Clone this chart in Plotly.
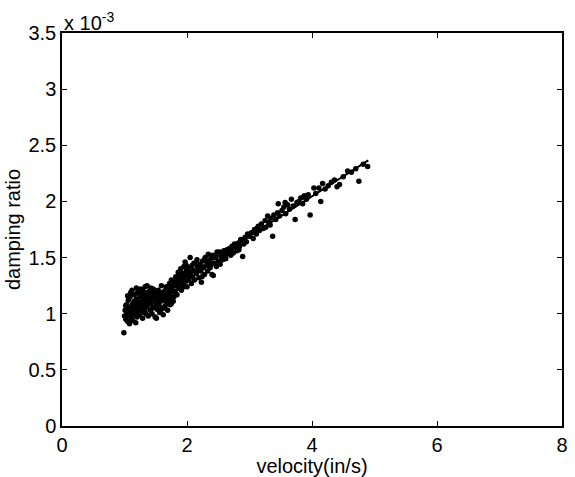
import plotly.graph_objects as go

# velocity (in/s) and damping ratio (x 1e-3)
vel = [
    0.99, 1.00, 1.01, 1.02, 1.03, 1.04, 1.05, 1.06, 1.07, 1.08, 1.08, 1.09, 1.10, 1.11, 1.12, 1.12, 1.13, 1.14, 1.15, 1.15, 1.16, 1.17, 1.18, 1.18, 1.19, 1.20, 1.20,
    1.21, 1.22, 1.23, 1.24, 1.25, 1.25, 1.26, 1.27, 1.28, 1.29, 1.30, 1.30, 1.31, 1.32, 1.33, 1.34, 1.35, 1.36, 1.36, 1.37, 1.38, 1.39, 1.40, 1.41, 1.42, 1.43, 1.44, 1.45, 1.46, 1.47, 1.48, 1.49, 1.50, 1.50,
    1.51, 1.52, 1.53, 1.54, 1.55, 1.56, 1.57, 1.58, 1.59, 1.60, 1.61, 1.62, 1.63, 1.64, 1.65, 1.66, 1.67, 1.68, 1.69, 1.70, 1.71, 1.72, 1.73, 1.74, 1.75, 1.76, 1.77, 1.78, 1.79, 1.80,
    1.81, 1.82, 1.83, 1.84, 1.85, 1.86, 1.87, 1.88, 1.89, 1.90, 1.91, 1.92, 1.93, 1.94, 1.95, 1.96, 1.97, 1.98, 1.99, 2.00, 2.01, 2.02, 2.03, 2.05, 2.06, 2.07, 2.08, 2.09, 2.10,
    2.12, 2.13, 2.15, 2.16, 2.18, 2.19, 2.21, 2.22, 2.23, 2.25, 2.26, 2.28, 2.29, 2.31, 2.33, 2.34, 2.35, 2.37, 2.38, 2.40, 2.41, 2.42, 2.44, 2.45, 2.47, 2.48, 2.50,
    2.52, 2.53, 2.55, 2.57, 2.59, 2.60, 2.62, 2.64, 2.66, 2.68, 2.70, 2.72, 2.74, 2.76, 2.78, 2.80, 2.82, 2.84, 2.86, 2.89, 2.89, 2.91, 2.93, 2.95, 2.97, 3.00,
    3.03, 3.06, 3.08, 3.11, 3.14, 3.16, 3.19, 3.22, 3.25, 3.26, 3.29, 3.31, 3.34, 3.37, 3.39, 3.42, 3.45, 3.46, 3.48,
    3.52, 3.55, 3.58, 3.61, 3.64, 3.67, 3.70, 3.73, 3.76, 3.79, 3.82, 3.85, 3.88, 3.91, 3.94, 3.97,
    4.03, 4.06, 4.11, 4.14, 4.17, 4.21, 4.26, 4.31, 4.36, 4.40, 4.44, 4.50, 4.57, 4.63, 4.70, 4.75, 4.82, 4.89,
    # extra points filling the dense low-speed cluster
    1.02, 1.05, 1.07, 1.10, 1.13, 1.16, 1.19, 1.22, 1.24, 1.27, 1.29, 1.32, 1.34, 1.37, 1.40, 1.42, 1.45, 1.47, 1.52, 1.55,
    1.58, 1.61, 1.64, 1.66, 1.69, 1.72, 1.75, 1.78, 1.83, 1.87, 1.91, 1.95, 1.99, 2.04, 2.11, 2.17, 2.24, 2.32, 2.39, 2.46,
    2.56, 2.63, 2.71, 2.83, 3.12, 3.33, 3.57, 3.86,
]
damp = [
    0.83, 0.98, 1.03, 0.95, 1.08, 1.00, 0.93, 1.12, 1.05, 0.91, 0.99, 1.15, 1.02, 0.96, 1.21, 1.08, 0.94, 1.04, 1.11, 0.99, 1.17, 1.06, 0.92, 1.01, 1.13, 1.08, 0.97,
    1.19, 1.03, 1.10, 0.99, 1.15, 1.06, 1.22, 1.01, 1.12, 0.96, 1.08, 1.18, 1.04, 1.14, 1.24, 1.00, 1.10, 1.25, 1.06, 1.16, 0.98, 1.12, 1.20, 1.03, 1.09, 1.17, 1.00, 1.13, 1.22, 1.06, 1.15, 0.97, 1.10, 1.19,
    0.96, 1.04, 1.14, 1.21, 1.08, 1.01, 1.17, 1.11, 1.25, 1.05, 1.15, 0.99, 1.12, 1.20, 1.07, 1.16, 1.24, 1.10, 1.03, 1.19, 1.13, 1.27, 1.08, 1.22, 1.30, 1.15, 1.24, 1.11, 1.15, 1.28,
    1.20, 1.33, 1.25, 1.17, 1.30, 1.37, 1.23, 1.34, 1.28, 1.40, 1.21, 1.31, 1.36, 1.26, 1.42, 1.33, 1.46, 1.29, 1.38, 1.24, 1.35, 1.41, 1.30, 1.50, 1.37, 1.27, 1.43, 1.33, 1.39,
    1.30, 1.45, 1.36, 1.48, 1.40, 1.32, 1.44, 1.38, 1.28, 1.47, 1.41, 1.35, 1.50, 1.43, 1.38, 1.53, 1.46, 1.41, 1.49, 1.35, 1.52, 1.34, 1.45, 1.50, 1.42, 1.55, 1.47,
    1.55, 1.44, 1.51, 1.48, 1.56, 1.52, 1.49, 1.57, 1.55, 1.58, 1.52, 1.60, 1.54, 1.62, 1.59, 1.56, 1.63, 1.60, 1.66, 1.65, 1.51, 1.62, 1.68, 1.64, 1.71, 1.69,
    1.72, 1.67, 1.75, 1.71, 1.78, 1.74, 1.80, 1.76, 1.83, 1.77, 1.87, 1.81, 1.85, 1.69, 1.88, 1.84, 1.90, 1.98, 1.87,
    1.92, 1.95, 1.89, 1.97, 1.93, 2.02, 1.96, 1.84, 1.99, 2.00, 2.03, 1.98, 2.05, 2.02, 2.06, 1.88,
    2.12, 2.07, 2.12, 2.00, 2.16, 2.11, 2.14, 2.17, 2.19, 2.13, 2.15, 2.22, 2.27, 2.26, 2.29, 2.18, 2.33, 2.31,
    1.07, 1.16, 0.98, 1.19, 1.01, 1.09, 1.23, 1.07, 1.18, 1.09, 1.21, 1.02, 1.19, 1.09, 1.14, 1.23, 1.05, 1.20, 1.09, 1.14,
    1.03, 1.19, 1.05, 1.21, 1.14, 1.18, 1.09, 1.20, 1.31, 1.27, 1.35, 1.24, 1.43, 1.33, 1.45, 1.42, 1.33, 1.47, 1.44, 1.51,
    1.50, 1.53, 1.56, 1.57, 1.76, 1.79, 1.99, 2.04,
]

# fitted line end points
fit_vel = [1.0, 4.9]
fit_damp = [0.98, 2.365]

x_ticks = [0, 2, 4, 6, 8]
y_ticks = [0, 0.5, 1, 1.5, 2, 2.5, 3, 3.5]
y_tick_text = ["0", "0.5", "1", "1.5", "2", "2.5", "3", "3.5"]

FONT = "Liberation Sans, Arial, sans-serif"
FS = 20

fig = go.Figure()
fig.add_trace(go.Scatter(x=vel, y=damp, mode="markers",
                         marker=dict(color="black", size=5.5, line=dict(width=0)),
                         showlegend=False))
fig.add_trace(go.Scatter(x=fit_vel, y=fit_damp, mode="lines",
                         line=dict(color="black", width=2), showlegend=False))

axis_common = dict(showline=True, linecolor="black", linewidth=1.5, mirror="ticks",
                   ticks="inside", ticklen=5, tickcolor="black", showgrid=False,
                   zeroline=False, tickfont=dict(size=FS, color="black", family=FONT))

fig.update_xaxes(range=[0, 8], tickvals=x_ticks, ticktext=[str(v) for v in x_ticks],
                 title=dict(text="velocity(in/s)", font=dict(size=FS, color="black", family=FONT),
                            standoff=0), **axis_common)
fig.update_yaxes(range=[0, 3.5], tickvals=y_ticks, ticktext=y_tick_text,
                 title=dict(text="damping ratio", font=dict(size=FS, color="black", family=FONT),
                            standoff=2), **axis_common)

fig.add_annotation(text="x 10<sup>-3</sup>", xref="paper", yref="paper", x=0, y=1,
                   xanchor="left", yanchor="bottom", showarrow=False, yshift=-3,
                   font=dict(size=FS, color="black", family=FONT))

fig.update_layout(width=575, height=477, margin=dict(l=62, r=7, t=33, b=49),
                  paper_bgcolor="white", plot_bgcolor="white",
                  font=dict(family=FONT, color="black"))

fig.write_html("out.html")
